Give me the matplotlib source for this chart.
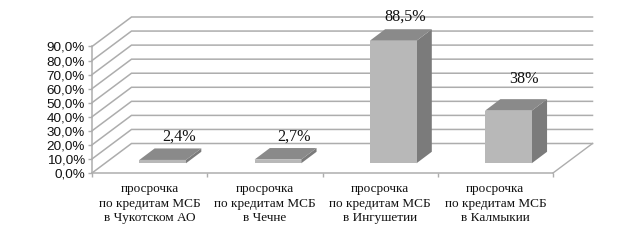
import matplotlib
matplotlib.use("Agg")
import matplotlib.pyplot as plt
from matplotlib.patches import Polygon

labels = ["просрочка\nпо кредитам МСБ\nв Чукотском АО",
          "просрочка\nпо кредитам МСБ\nв Чечне",
          "просрочка\nпо кредитам МСБ\nв Ингушетии",
          "просрочка\nпо кредитам МСБ\nв Калмыкии"]
values = [2.4, 2.7, 88.5, 38.0]
value_labels = ["2,4%", "2,7%", "88,5%", "38%"]
yticks = [0, 10, 20, 30, 40, 50, 60, 70, 80, 90]
ytick_labels = ["0,0%", "10,0%", "20,0%", "30,0%", "40,0%", "50,0%", "60,0%", "70,0%", "80,0%", "90,0%"]
label_offsets = [(16, 23), (16, 23), (12, 24), (16, 32)]

W, H = 639, 241
fig = plt.figure(figsize=(W / 100, H / 100), dpi=100, facecolor="white")
ax = fig.add_axes([92 / W, (H - 173) / H, (553 - 92) / W, (173 - 46.5) / H])
ax.set_xlim(-0.5, 3.5)
ax.set_ylim(0, 90)
ax.patch.set_visible(False)

# depth of the 3D box in data units
px_x = 4 / (553 - 92)
px_y = 90 / (173 - 46.5)
DX, DY = 39.5 * px_x, 29.5 * px_y
GRID = "#adadad"

for v in yticks:
    ax.plot([-0.5, -0.5 + DX, 3.5 + DX], [v, v + DY, v + DY], color=GRID, lw=1.1,
            clip_on=False, zorder=1, solid_joinstyle="miter")
ax.plot([3.5, 3.5 + DX], [0, DY], color=GRID, lw=1.0, clip_on=False, zorder=1)

bar_w = 46.7 * px_x
front = 0.33
b_dx, b_dy = 15.3 * px_x, 11.5 * px_y
for i, v in enumerate(values):
    x0 = i - bar_w / 2 + front * DX
    x1 = x0 + bar_w
    y0 = front * DY
    y1 = y0 + v * 0.985
    ax.add_patch(Polygon([(x1, y0), (x1 + b_dx, y0 + b_dy), (x1 + b_dx, y1 + b_dy), (x1, y1)],
                         fc="#7b7b7b", ec="none", clip_on=False, zorder=3))
    ax.add_patch(Polygon([(x0, y1), (x1, y1), (x1 + b_dx, y1 + b_dy), (x0 + b_dx, y1 + b_dy)],
                         fc="#8a8a8a", ec="none", clip_on=False, zorder=3))
    ax.add_patch(Polygon([(x0, y0), (x1, y0), (x1, y1), (x0, y1)],
                         fc="#b8b8b8", ec="none", clip_on=False, zorder=4))
    ax.annotate(value_labels[i], xy=((x0 + x1) / 2, y1),
                xytext=(label_offsets[i][0] * 0.72, label_offsets[i][1] * 0.72),
                textcoords="offset points", ha="center", va="center",
                family="Liberation Serif", fontsize=11.6, color="#111111",
                zorder=5, annotation_clip=False)

for s in ("top", "right"):
    ax.spines[s].set_visible(False)
for s in ("left", "bottom"):
    ax.spines[s].set_color(GRID)
    ax.spines[s].set_linewidth(1.1)

ax.set_yticks(yticks, ytick_labels, family="Liberation Sans", fontsize=9.7, color="#111111")
ax.tick_params(axis="y", length=3, width=1.0, color=GRID, pad=2)
ax.set_xticks(range(len(labels)), labels, family="Liberation Serif", fontsize=9.5,
              color="#111111", linespacing=1.25)
ax.tick_params(axis="x", which="major", length=0, pad=7.5)
ax.set_xticks([-0.5, 0.5, 1.5, 2.5, 3.5], minor=True)
ax.tick_params(axis="x", which="minor", length=3, width=1.0, color=GRID)

fig.savefig("out.png", dpi=100, facecolor="white")
